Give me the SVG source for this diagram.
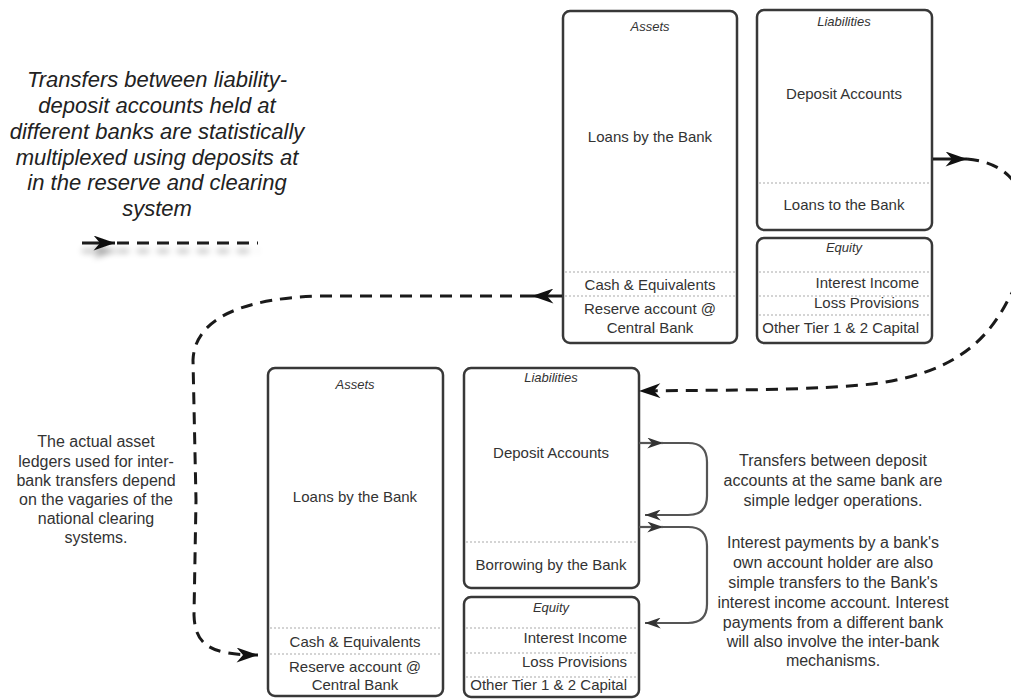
<svg xmlns="http://www.w3.org/2000/svg" width="1011" height="700" viewBox="0 0 1011 700">
<style>
  .box { fill: #fff; stroke: #383838; stroke-width: 2.5; }
  .dot { stroke: #aaa; stroke-width: 1.2; stroke-dasharray: 2 2; fill: none; }
  .t { font-family: "Liberation Sans", Arial, sans-serif; font-size: 15px; fill: #333; text-anchor: middle; }
  .r { text-anchor: end; }
  .h { font-family: "Liberation Sans", Arial, sans-serif; font-size: 13px; font-style: italic; fill: #333; text-anchor: middle; }
  .note { font-family: "Liberation Sans", Arial, sans-serif; font-size: 16px; fill: #333; text-anchor: middle; }
  .big { font-family: "Liberation Sans", Arial, sans-serif; font-size: 22px; font-style: italic; fill: #222; text-anchor: middle; }
  .dash { fill: none; stroke: #1a1a1a; stroke-width: 3; stroke-dasharray: 12 8; }
  .solid { fill: none; stroke: #1a1a1a; stroke-width: 3; }
  .loop { fill: none; stroke: #555; stroke-width: 2.2; }
</style>
<defs>
  <marker id="barb" viewBox="0 0 20 14" refX="20" refY="7" markerUnits="userSpaceOnUse" markerWidth="22" markerHeight="15" orient="auto">
    <path d="M0,0 L20,7 L0,14 L6,7 Z" fill="#111" stroke="none"/>
  </marker>
  <marker id="barbS" viewBox="0 0 20 14" refX="20" refY="7" markerUnits="userSpaceOnUse" markerWidth="16" markerHeight="11" orient="auto">
    <path d="M0,0 L20,7 L0,14 L6,7 Z" fill="#333" stroke="none"/>
  </marker>
  <filter id="shadow" filterUnits="userSpaceOnUse" x="60" y="220" width="220" height="60">
    <feGaussianBlur in="SourceAlpha" stdDeviation="3"/>
    <feOffset dx="0" dy="8"/>
    <feComponentTransfer><feFuncA type="linear" slope="0.35"/></feComponentTransfer>
    <feMerge><feMergeNode/><feMergeNode in="SourceGraphic"/></feMerge>
  </filter>
</defs>
<rect width="1011" height="700" fill="#fff"/>

<g id="legend-text">
  <text class="big" x="157" y="87">Transfers between liability-</text>
  <text class="big" x="157" y="113">deposit accounts held at</text>
  <text class="big" x="157" y="139">different banks are statistically</text>
  <text class="big" x="157" y="165">multiplexed using deposits at</text>
  <text class="big" x="157" y="190">in the reserve and clearing</text>
  <text class="big" x="157" y="216">system</text>
</g>
<g id="legend" filter="url(#shadow)">
  <line class="solid" x1="82" y1="243" x2="115" y2="243" marker-end="url(#barb)"/>
  <line class="dash" x1="117" y1="243" x2="258" y2="243" stroke-dasharray="0 13 12 9 12 9 12 9 12 9 12 9 12 9 12 9"/>
</g>

<!-- Top bank -->
<g id="top-assets">
  <rect class="box" x="563" y="11" width="174" height="332" rx="7"/>
  <text class="h" x="650" y="31">Assets</text>
  <text class="t" x="650" y="142">Loans by the Bank</text>
  <line class="dot" x1="565" y1="272" x2="735" y2="272"/>
  <text class="t" x="650" y="290">Cash &amp; Equivalents</text>
  <line class="dot" x1="565" y1="296" x2="735" y2="296"/>
  <text class="t" x="650" y="314">Reserve account @</text>
  <text class="t" x="650" y="333">Central Bank</text>
</g>
<g id="top-liabilities">
  <rect class="box" x="757" y="10" width="175" height="220" rx="7"/>
  <text class="h" x="844" y="26">Liabilities</text>
  <text class="t" x="844" y="99">Deposit Accounts</text>
  <line class="dot" x1="759" y1="183" x2="930" y2="183"/>
  <text class="t" x="844" y="210">Loans to the Bank</text>
</g>
<g id="top-equity">
  <rect class="box" x="757" y="238" width="175" height="105" rx="7"/>
  <text class="h" x="844" y="252">Equity</text>
  <line class="dot" x1="759" y1="272" x2="930" y2="272"/>
  <text class="t r" x="919" y="288">Interest Income</text>
  <line class="dot" x1="759" y1="296" x2="930" y2="296"/>
  <text class="t r" x="919" y="308">Loss Provisions</text>
  <line class="dot" x1="759" y1="315" x2="930" y2="315"/>
  <text class="t r" x="919" y="333">Other Tier 1 &amp; 2 Capital</text>
</g>

<!-- Bottom bank -->
<g id="bottom-assets">
  <rect class="box" x="268" y="368" width="175" height="328" rx="7"/>
  <text class="h" x="355" y="389">Assets</text>
  <text class="t" x="355" y="502">Loans by the Bank</text>
  <line class="dot" x1="270" y1="628" x2="441" y2="628"/>
  <text class="t" x="355" y="647">Cash &amp; Equivalents</text>
  <line class="dot" x1="270" y1="654" x2="441" y2="654"/>
  <text class="t" x="355" y="672">Reserve account @</text>
  <text class="t" x="355" y="690">Central Bank</text>
</g>
<g id="bottom-liabilities">
  <rect class="box" x="464" y="368" width="175" height="220" rx="7"/>
  <text class="h" x="551" y="382">Liabilities</text>
  <text class="t" x="551" y="458">Deposit Accounts</text>
  <line class="dot" x1="466" y1="542" x2="637" y2="542"/>
  <text class="t" x="551" y="570">Borrowing by the Bank</text>
</g>
<g id="bottom-equity">
  <rect class="box" x="464" y="597" width="175" height="100" rx="7"/>
  <text class="h" x="551" y="612">Equity</text>
  <line class="dot" x1="466" y1="628" x2="637" y2="628"/>
  <text class="t r" x="627" y="643">Interest Income</text>
  <line class="dot" x1="466" y1="653" x2="637" y2="653"/>
  <text class="t r" x="627" y="667">Loss Provisions</text>
  <line class="dot" x1="466" y1="677" x2="637" y2="677"/>
  <text class="t r" x="627" y="690">Other Tier 1 &amp; 2 Capital</text>
</g>

<!-- Notes -->
<g id="note-left">
  <text class="note" x="96" y="447">The actual asset</text>
  <text class="note" x="96" y="467">ledgers used for inter-</text>
  <text class="note" x="96" y="486">bank transfers depend</text>
  <text class="note" x="96" y="505">on the vagaries of the</text>
  <text class="note" x="96" y="524">national clearing</text>
  <text class="note" x="96" y="543">systems.</text>
</g>
<g id="note-same-bank">
  <text class="note" x="833" y="466">Transfers between deposit</text>
  <text class="note" x="833" y="486">accounts at the same bank are</text>
  <text class="note" x="833" y="506">simple ledger operations.</text>
</g>
<g id="note-interest">
  <text class="note" x="833" y="548">Interest payments by a bank's</text>
  <text class="note" x="833" y="568">own account holder are also</text>
  <text class="note" x="833" y="588">simple transfers to the Bank's</text>
  <text class="note" x="833" y="608">interest income account. Interest</text>
  <text class="note" x="833" y="628">payments from a different bank</text>
  <text class="note" x="833" y="647">will also involve the inter-bank</text>
  <text class="note" x="833" y="666">mechanisms.</text>
</g>

<g id="connectors">
  <!-- top liabilities -> bottom liabilities -->
  <line class="solid" x1="933" y1="159" x2="967" y2="159" marker-end="url(#barb)"/>
  <path class="dash" d="M967,159 C1045,165 1035,255 1008,300 C985,345 950,372 880,383 C820,391 700,390 639,391" marker-end="url(#barb)"/>
  <!-- top assets -> bottom assets -->
  <line class="solid" x1="562" y1="296" x2="532" y2="296" marker-end="url(#barb)"/>
  <path class="dash" d="M532,296 L320,296 C250,298 195,315 193,360 L196,500 L194,615 C195,645 210,655 258,655" marker-end="url(#barb)"/>
  <!-- same-bank loops -->
  <line class="loop" x1="639" y1="443" x2="663" y2="443" marker-end="url(#barbS)"/>
  <path class="loop" d="M661,443 L688,443 Q707,443 707,462 L707,496 Q707,515 688,515 L645,515" marker-end="url(#barbS)"/>
  <line class="loop" x1="639" y1="527" x2="663" y2="527" marker-end="url(#barbS)"/>
  <path class="loop" d="M661,527 L688,527 Q707,527 707,546 L707,604 Q707,623 688,623 L645,623" marker-end="url(#barbS)"/>
</g>
</svg>
